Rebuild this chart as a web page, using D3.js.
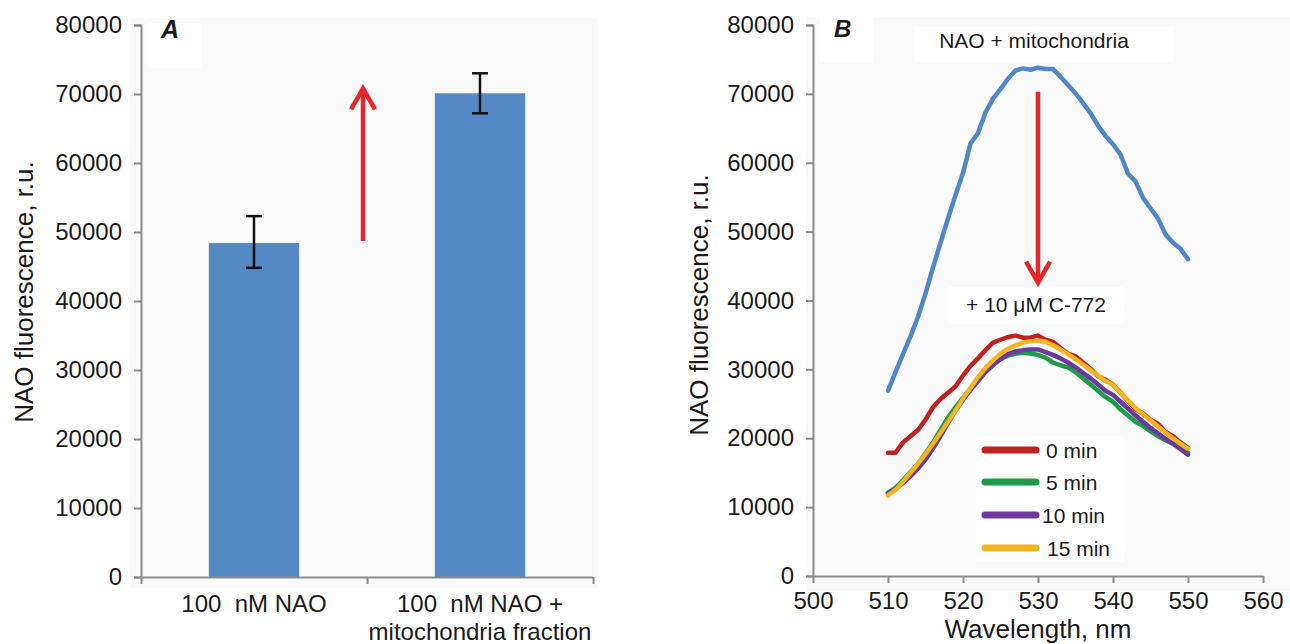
<!DOCTYPE html>
<html>
<head>
<meta charset="utf-8">
<script src="https://cdn.jsdelivr.net/npm/d3@7/dist/d3.min.js"></script>
<style>
  html, body { margin: 0; padding: 0; background: #ffffff; }
  svg { display: block; font-family: "Liberation Sans", Arial, sans-serif; }
  text { white-space: pre; }
</style>
</head>
<body>
<svg id="chart" width="1290" height="644"></svg>
<script>
// ---- Panel A: bar chart ----
const barCategories = [["100  nM NAO"], ["100  nM NAO +", "mitochondria fraction"]];
const barValues = [48400, 70100];
const barErrLow = [44800, 67200];
const barErrHigh = [52300, 73000];
const yTicksA = [0, 10000, 20000, 30000, 40000, 50000, 60000, 70000, 80000];
const arrowA = { from: 48700, to: 70800 };

// ---- Panel B: emission spectra ----
const wavelengths = [510,511,512,513,514,515,516,517,518,519,520,521,522,523,524,525,526,527,528,529,530,
                     531,532,533,534,535,536,537,538,539,540,541,542,543,544,545,546,547,548,549,550];
const naoMito = [26900,29600,32200,34800,37600,41000,44800,48400,51900,55300,58500,62800,64300,67300,69300,70700,72200,73400,73700,73500,73800,
                 73600,73600,72500,71300,70100,68700,67200,65400,63900,62700,61200,58400,57300,54900,53400,51900,49600,48400,47500,46000];
const min0 = [17900,17900,19400,20300,21200,22700,24500,25700,26600,27500,29100,30500,31600,32800,33900,34300,34700,34900,34600,34600,34900,
              34300,34000,33100,32300,31900,31000,30100,29000,28500,27800,26600,25400,24200,23600,22700,22100,20900,20300,19400,18600];
const min5 = [12100,12800,13900,15100,16300,17800,19400,21200,23000,24500,25900,27200,28400,29900,30700,31500,32000,32300,32400,32300,32100,
              31700,31000,30600,30300,29600,28700,27800,26900,26000,25300,24200,23300,22400,21800,21000,20300,19700,19200,18600,17900];
const min10 = [12000,12600,13500,14500,15600,16900,18500,20300,22200,24000,25600,27000,28300,29600,30600,31500,32200,32600,32800,32900,32900,
               32500,32100,31600,31000,30300,29500,28700,27800,26900,26300,25300,24300,23300,22400,21500,20700,19900,19200,18400,17600];
const min15 = [11700,12500,13700,15000,16300,17700,19200,20800,22400,24000,25800,27300,28900,30200,31300,32300,33000,33500,33900,34100,34200,
               34000,33500,32900,32200,31500,30700,29900,29100,28300,27800,26600,25500,24400,23500,22600,21700,20800,20000,19200,18500];
const yTicksB = [0, 10000, 20000, 30000, 40000, 50000, 60000, 70000, 80000];
const xTicksB = [500, 510, 520, 530, 540, 550, 560];
const spectra = [
  { label: "0 min", values: min0, color: "#c0211f" },
  { label: "5 min", values: min5, color: "#1f9a4a" },
  { label: "10 min", values: min10, color: "#6b3a9c" },
  { label: "15 min", values: min15, color: "#f3b51d" }
];
const topSpectrum = { label: "NAO + mitochondria", values: naoMito, color: "#4f87c9" };
const treatmentLabel = "+ 10 μM C-772";
const arrowB = { wl: 530, from: 70300, to: 42600 };

const svg = d3.select("#chart");
const axisColor = "#8c8c8c";
const arrowRed = "#e4262a";

function styleAxis(g) {
  g.select(".domain").attr("stroke", axisColor).attr("stroke-width", 2);
  g.selectAll(".tick line").attr("stroke", axisColor).attr("stroke-width", 2);
  g.selectAll(".tick text").attr("fill", "#1a1a1a").attr("font-family", "Liberation Sans, Arial, sans-serif");
}

// vertical arrow with an open chevron head; tip at y2
function drawArrow(g, x, y1, y2, up) {
  const head = 21, half = 12;
  const dir = up ? 1 : -1;
  g.append("line").attr("x1", x).attr("x2", x).attr("y1", y1).attr("y2", y2 + dir * 3)
    .attr("stroke", arrowRed).attr("stroke-width", 4.5);
  g.append("path")
    .attr("d", `M${x - half},${y2 + dir * head} L${x},${y2} L${x + half},${y2 + dir * head}`)
    .attr("fill", "none").attr("stroke", arrowRed).attr("stroke-width", 4.5)
    .attr("stroke-linejoin", "miter").attr("stroke-linecap", "butt");
}

// ================= Panel A =================
const A = { left: 141, right: 593, top: 25, bottom: 577 };
svg.append("rect").attr("x", 130).attr("y", 18).attr("width", 468).attr("height", 570).attr("fill", "#fafafa");
svg.append("rect").attr("x", 148).attr("y", 23).attr("width", 53).attr("height", 45).attr("fill", "#ffffff");

const yA = d3.scaleLinear().domain([0, 80000]).range([A.bottom, A.top]);
const xA = d3.scaleBand().domain(d3.range(barValues.length)).range([A.left, A.right]).padding(0);
const barW = xA.bandwidth() * 0.4;
const gA = svg.append("g");

gA.selectAll("rect.bar").data(barValues).join("rect")
  .attr("class", "bar")
  .attr("x", (d, i) => xA(i) + xA.bandwidth() / 2 - barW / 2)
  .attr("width", barW)
  .attr("y", d => yA(d))
  .attr("height", d => yA(0) - yA(d))
  .attr("fill", "#5489c6");

// error bars
barValues.forEach((v, i) => {
  const cx = xA(i) + xA.bandwidth() / 2;
  const eg = gA.append("g").attr("stroke", "#111").attr("stroke-width", 2.5);
  eg.append("line").attr("x1", cx).attr("x2", cx).attr("y1", yA(barErrLow[i])).attr("y2", yA(barErrHigh[i]));
  eg.append("line").attr("x1", cx - 8).attr("x2", cx + 8).attr("y1", yA(barErrLow[i])).attr("y2", yA(barErrLow[i]));
  eg.append("line").attr("x1", cx - 8).attr("x2", cx + 8).attr("y1", yA(barErrHigh[i])).attr("y2", yA(barErrHigh[i]));
});

const yAxisA = gA.append("g").attr("transform", `translate(${A.left},0)`)
  .call(d3.axisLeft(yA).tickValues(yTicksA).tickFormat(d3.format("d")).tickSize(7).tickPadding(12));
yAxisA.selectAll(".tick text").attr("font-size", 24);
styleAxis(yAxisA);

const xAxisA = gA.append("g").attr("transform", `translate(0,${A.bottom})`)
  .call(d3.axisBottom(d3.scaleLinear().domain([0, 2]).range([A.left, A.right])).tickValues([0, 1, 2]).tickFormat("").tickSize(7).tickSizeOuter(0));
styleAxis(xAxisA);

barCategories.forEach((lines, i) => {
  const cx = xA(i) + xA.bandwidth() / 2;
  const t = gA.append("text").attr("text-anchor", "middle").attr("font-size", 24).attr("fill", "#1a1a1a");
  lines.forEach((s, k) => t.append("tspan").attr("x", cx).attr("y", 612 + k * 28).text(s));
});

gA.append("text").attr("transform", `translate(33,292) rotate(-90)`).attr("text-anchor", "middle")
  .attr("font-size", 26).attr("fill", "#1a1a1a").text("NAO fluorescence, r.u.");
gA.append("text").attr("x", 161).attr("y", 38).attr("font-size", 25).attr("font-weight", "bold")
  .attr("font-style", "italic").attr("fill", "#1a1a1a").text("A");

drawArrow(gA, (xA(0) + xA(1) + xA.bandwidth()) / 2 - 4, yA(arrowA.from), yA(arrowA.to), true);

// ================= Panel B =================
const B = { left: 813, right: 1263, top: 25, bottom: 576 };
svg.append("rect").attr("x", 806).attr("y", 17).attr("width", 484).attr("height", 574).attr("fill", "#fafafa");
svg.append("rect").attr("x", 820).attr("y", 17).attr("width", 53).attr("height", 45).attr("fill", "#ffffff");

const xB = d3.scaleLinear().domain([500, 560]).range([B.left, B.right]);
const yB = d3.scaleLinear().domain([0, 80000]).range([B.bottom, B.top]);
const gB = svg.append("g");

const line = d3.line().x((d, i) => xB(wavelengths[i])).y(d => yB(d)).curve(d3.curveLinear);

gB.append("path").datum(topSpectrum.values).attr("d", line).attr("fill", "none")
  .attr("stroke", topSpectrum.color).attr("stroke-width", 4.5).attr("stroke-linejoin", "round").attr("stroke-linecap", "round");

spectra.forEach(s => {
  gB.append("path").datum(s.values).attr("d", line).attr("fill", "none")
    .attr("stroke", s.color).attr("stroke-width", 4.5).attr("stroke-linejoin", "round").attr("stroke-linecap", "round");
});

const yAxisB = gB.append("g").attr("transform", `translate(${B.left},0)`)
  .call(d3.axisLeft(yB).tickValues(yTicksB).tickFormat(d3.format("d")).tickSize(7).tickPadding(12));
yAxisB.selectAll(".tick text").attr("font-size", 24);
styleAxis(yAxisB);

const xAxisB = gB.append("g").attr("transform", `translate(0,${B.bottom})`)
  .call(d3.axisBottom(xB).tickValues(xTicksB).tickSize(7).tickSizeOuter(0).tickPadding(9));
xAxisB.selectAll(".tick text").attr("font-size", 24);
styleAxis(xAxisB);

gB.append("text").attr("transform", `translate(708,305) rotate(-90)`).attr("text-anchor", "middle")
  .attr("font-size", 26).attr("fill", "#1a1a1a").text("NAO fluorescence, r.u.");
gB.append("text").attr("x", xB(530)).attr("y", 638).attr("text-anchor", "middle")
  .attr("font-size", 26).attr("fill", "#1a1a1a").text("Wavelength, nm");
gB.append("text").attr("x", 834).attr("y", 37).attr("font-size", 24).attr("font-weight", "bold")
  .attr("font-style", "italic").attr("fill", "#1a1a1a").text("B");

// annotation boxes
gB.append("rect").attr("x", 915).attr("y", 27).attr("width", 258).attr("height", 35).attr("fill", "#ffffff");
gB.append("text").attr("x", 1034).attr("y", 48).attr("text-anchor", "middle").attr("font-size", 21)
  .attr("fill", "#1a1a1a").text(topSpectrum.label);

drawArrow(gB, xB(arrowB.wl), yB(arrowB.from), yB(arrowB.to), false);

gB.append("rect").attr("x", 948).attr("y", 287).attr("width", 176).attr("height", 37).attr("fill", "#ffffff");
gB.append("text").attr("x", 1036).attr("y", 312).attr("text-anchor", "middle").attr("font-size", 21)
  .attr("fill", "#1a1a1a").text(treatmentLabel);

// legend
const leg = gB.append("g");
leg.append("rect").attr("x", 976).attr("y", 436).attr("width", 148).attr("height", 126).attr("fill", "#ffffff");
const legY = [450, 482, 515, 548];
const legTextX = [1046, 1046, 1042, 1047];
spectra.forEach((s, i) => {
  leg.append("line").attr("x1", 985).attr("x2", 1036).attr("y1", legY[i]).attr("y2", legY[i])
    .attr("stroke", s.color).attr("stroke-width", 7).attr("stroke-linecap", "round");
  leg.append("text").attr("x", legTextX[i]).attr("y", legY[i] + 7.5).attr("font-size", 21)
    .attr("fill", "#1a1a1a").text(s.label);
});
</script>
</body>
</html>
